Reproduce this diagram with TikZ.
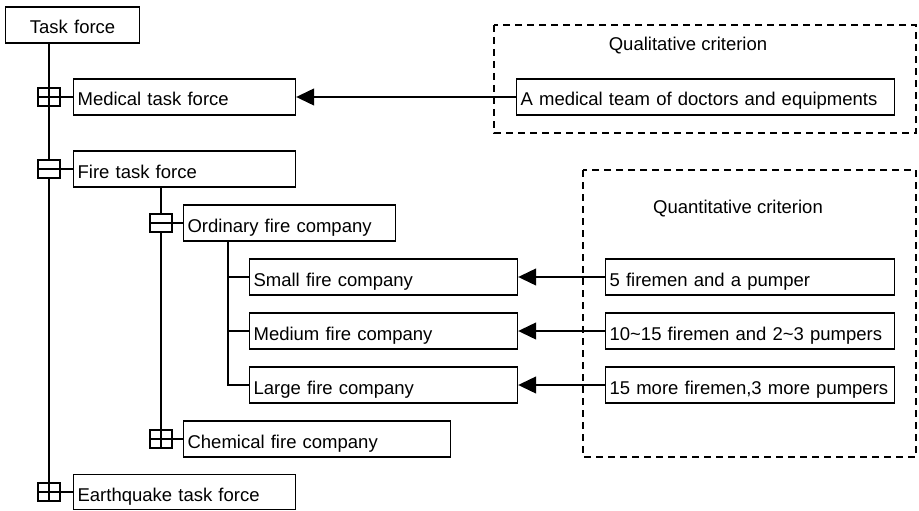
\documentclass[tikz,border=0pt]{standalone}
\usepackage{fontspec}
\setmainfont{Liberation Sans}
\usetikzlibrary{arrows.meta}

\tikzset{
  unit/.style={draw, line width=1.2pt, fill=white, minimum height=36pt, inner xsep=4pt,
    text height=18pt, text depth=0pt, align=left, anchor=west},
  toggle/.style={draw, line width=1.2pt, fill=white, minimum width=22pt, minimum height=18pt, inner sep=0pt},
  link/.style={line width=1.2pt},
  req/.style={line width=1.2pt, -{Triangle[length=18pt, width=17pt]}},
  group/.style={line width=1.2pt, dash pattern=on 7pt off 5pt}
}

\begin{document}
\begin{tikzpicture}[x=1pt, y=-1pt, font=\fontsize{18.5}{22}\selectfont]
  \useasboundingbox (0,0) rectangle (919,511);

  % criterion frames
  \draw[group] (494,25) rectangle (916,133);
  \draw[group] (583,170) rectangle (916,457);
  \node[anchor=base] (qual) at (688,50.5) {Qualitative criterion};
  \node[anchor=base] (quan) at (738,213.5) {Quantitative criterion};

  % task force tree
  \node[unit, text width=126pt, align=center] (task) at (5,25) {Task force};
  \node[unit, text width=214pt] (med) at (73,97) {Medical task force};
  \node[unit, text width=214pt] (fire) at (73,169) {Fire task force};
  \node[unit, text width=204pt] (ord) at (183,223) {Ordinary fire company};
  \node[unit, text width=260pt] (small) at (249,277) {Small fire company};
  \node[unit, text width=260pt] (medium) at (249,331) {Medium fire company};
  \node[unit, text width=260pt] (large) at (249,385) {Large fire company};
  \node[unit, text width=259pt] (chem) at (183,439) {Chemical fire company};
  \node[unit, text width=214pt, minimum height=35pt] (quake) at (73,492) {Earthquake task force};

  \coordinate (trunk) at (49,0);
  \coordinate (branch) at (161,0);
  \coordinate (ob) at ([xshift=45pt]ord.south west);

  \draw[link] (task.south -| trunk) -- (quake.west -| trunk);
  \draw[link] (fire.south -| branch) -- (chem.west -| branch);
  \draw[link] (ob) |- (large.west);
  \draw[link] (ob |- small.west) -- (small.west);
  \draw[link] (ob |- medium.west) -- (medium.west);

  % expand / collapse boxes
  \node[toggle] (mi) at (med.west -| trunk) {};
  \node[toggle] (fi) at (fire.west -| trunk) {};
  \node[toggle] (qi) at (quake.west -| trunk) {};
  \node[toggle] (oi) at (ord.west -| branch) {};
  \node[toggle] (ci) at (chem.west -| branch) {};
  \draw[link] (mi.north) -- (mi.south) (mi.west) -- (mi.east);
  \draw[link] (qi.north) -- (qi.south) (qi.west) -- (qi.east);
  \draw[link] (ci.north) -- (ci.south) (ci.west) -- (ci.east);
  \draw[link] (fi.west) -- (fi.east);
  \draw[link] (oi.west) -- (oi.east);
  \draw[link] (mi.east) -- (med.west);
  \draw[link] (fi.east) -- (fire.west);
  \draw[link] (qi.east) -- (quake.west);
  \draw[link] (oi.east) -- (ord.west);
  \draw[link] (ci.east) -- (chem.west);

  % criteria
  \node[unit, text width=370pt] (c0) at (516,97) {A medical team of doctors and equipments};
  \node[unit, text width=281pt] (c1) at (605,277) {5 firemen and a pumper};
  \node[unit, text width=281pt] (c2) at (605,331) {10\textasciitilde15 firemen and 2\textasciitilde3 pumpers};
  \node[unit, text width=281pt] (c3) at (605,385) {15 more firemen,3 more pumpers};

  \draw[req] (c0.west) -- (med.east);
  \draw[req] (c1.west) -- (small.east);
  \draw[req] (c2.west) -- (medium.east);
  \draw[req] (c3.west) -- (large.east);
\end{tikzpicture}
\end{document}
